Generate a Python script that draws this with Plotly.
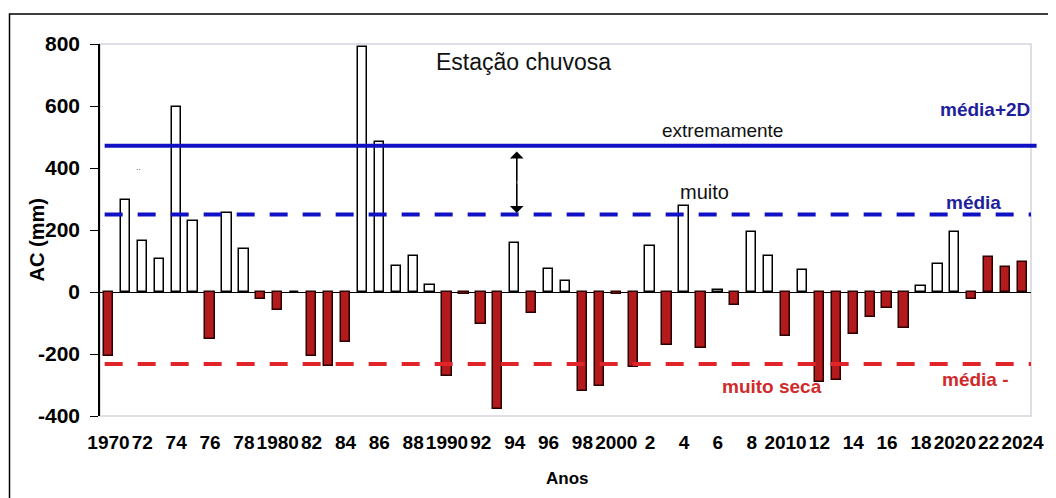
import plotly.graph_objects as go

# ---------------- data ----------------
years = list(range(1970, 2025))
ac_mm = [-205, 297, 163, 106, 596, 230, -150, 256, 138, -22,
         -59, 0, -205, -238, -162, 790, 484, 85, 115, 24,
         -270, -5, -103, -377, 158, -68, 74, 34, -320, -304,
         -5, -243, 147, -170, 276, -181, 5, -43, 194, 116,
         -141, 70, -290, -283, -137, -82, -52, -116, 18, 90,
         192, -23, 112, 81, 97]
highlight_years = [2022, 2023, 2024]

tick_years = list(range(1970, 2025, 2))
tick_labels = ["1970", "72", "74", "76", "78", "1980", "82", "84", "86", "88",
               "1990", "92", "94", "96", "98", "2000", "2", "4", "6", "8",
               "2010", "12", "14", "16", "18", "2020", "22", "2024"]
y_ticks = [-400, -200, 0, 200, 400, 600, 800]
y_tick_labels = ["-400", "-200", "0", "200", "400", "600", "800"]

media_2d = 472
media = 250
media_minus = -232
arrow_year = 1994.12
arrow_top = 453
arrow_bottom = 255

# ---------------- styles ----------------
FONT = "Liberation Sans, Arial, sans-serif"
RED_FILL = "#b21a1c"
RED_EDGE = "#2a0000"
BLUE_LINE = "#1010c4"
BLUE_TEXT = "#1f1f9e"
RED_LINE = "#e0242a"
RED_TEXT = "#d02a2a"

colors = []
edges = []
for yr, v in zip(years, ac_mm):
    if v < 0 or yr in highlight_years:
        colors.append(RED_FILL)
        edges.append(RED_EDGE)
    else:
        colors.append("white")
        edges.append("black")

fig = go.Figure()
fig.add_trace(go.Bar(
    x=years, y=ac_mm, width=0.55,
    marker=dict(color=colors, line=dict(color=edges, width=1.5)),
    showlegend=False, hoverinfo="x+y",
))

# plot-area border (light grey) and outer frame
fig.add_shape(type="rect", xref="paper", yref="paper", x0=0, x1=1, y0=0, y1=1,
              line=dict(color="#d4d4dc", width=1.5), layer="below")
fig.add_shape(type="rect", xref="paper", yref="paper",
              x0=-0.0972, x1=1.0192, y0=-0.35, y1=1.0806,
              line=dict(color="black", width=1.5))

# reference lines
fig.add_shape(type="line", xref="paper", yref="y", x0=0.005, x1=1.006,
              y0=media_2d, y1=media_2d, line=dict(color=BLUE_LINE, width=4))
fig.add_shape(type="line", xref="paper", yref="y", x0=0.005, x1=1.0,
              y0=media, y1=media, line=dict(color=BLUE_LINE, width=4, dash="18px,15px"))
fig.add_shape(type="line", xref="paper", yref="y", x0=0.005, x1=1.0,
              y0=media_minus, y1=media_minus, line=dict(color=RED_LINE, width=4, dash="18px,15px"))

# double arrow
fig.add_shape(type="line", xref="x", yref="y", x0=arrow_year, x1=arrow_year,
              y0=arrow_bottom + 15, y1=arrow_top - 15, line=dict(color="black", width=1.3))
arrow_mid = (arrow_top + arrow_bottom) / 2
for tip in (arrow_top, arrow_bottom):
    fig.add_annotation(x=arrow_year, y=tip, ax=arrow_year, ay=arrow_mid,
                       xref="x", yref="y", axref="x", ayref="y", text="",
                       showarrow=True, arrowhead=1, arrowsize=1.9, arrowwidth=1.2,
                       arrowcolor="black")

def txt(s, x, y, size, color="black", bold=False, angle=0):
    fig.add_annotation(text=("<b>%s</b>" % s) if bold else s, x=x, y=y,
                       xref="paper", yref="paper", showarrow=False,
                       xanchor="center", yanchor="middle", textangle=angle,
                       font=dict(family=FONT, size=size, color=color))

txt("Estação chuvosa", 0.455, 0.9516, 23, "#111111")
txt("extremamente", 0.6688, 0.7688, 19, "#111111")
txt("muito", 0.6496, 0.603, 20, "#111111")
txt("média+2D", 0.9509, 0.8226, 19, BLUE_TEXT, bold=True)
txt("média", 0.938, 0.5726, 19, BLUE_TEXT, bold=True)
txt("muito seca", 0.7222, 0.0788, 19, RED_TEXT, bold=True)
txt("média -", 0.9402, 0.0968, 19, RED_TEXT, bold=True)
txt("..", 0.041, 0.67, 9, "#555555")
txt("AC (mm)", -0.0673, 0.473, 20, "black", bold=True, angle=-90)
txt("Anos", 0.5021, -0.1667, 17, "black", bold=True)

fig.update_layout(
    width=1048, height=490,
    margin=dict(l=92, r=20, t=36, b=82),
    paper_bgcolor="white", plot_bgcolor="white",
    font=dict(family=FONT, color="black"),
    bargap=0,
    xaxis=dict(range=[1969.5, 2024.5], tickmode="array", tickvals=tick_years,
               ticktext=tick_labels, tickangle=0, ticks="", showgrid=False,
               zeroline=False, showline=False,
               tickfont=dict(family=FONT, size=19, color="black", weight="bold"),
               ticklabelstandoff=13),
    yaxis=dict(range=[-400, 800], tickmode="array", tickvals=y_ticks,
               ticktext=y_tick_labels,
               ticks="outside", ticklen=8, tickcolor="black", tickwidth=1.2,
               showgrid=False, showline=True, linecolor="black", linewidth=1.5,
               zeroline=True, zerolinecolor="black", zerolinewidth=1.2,
               tickfont=dict(family=FONT, size=21, color="black", weight="bold"),
               ticklabelstandoff=6),
)

fig.write_html("out.html")
